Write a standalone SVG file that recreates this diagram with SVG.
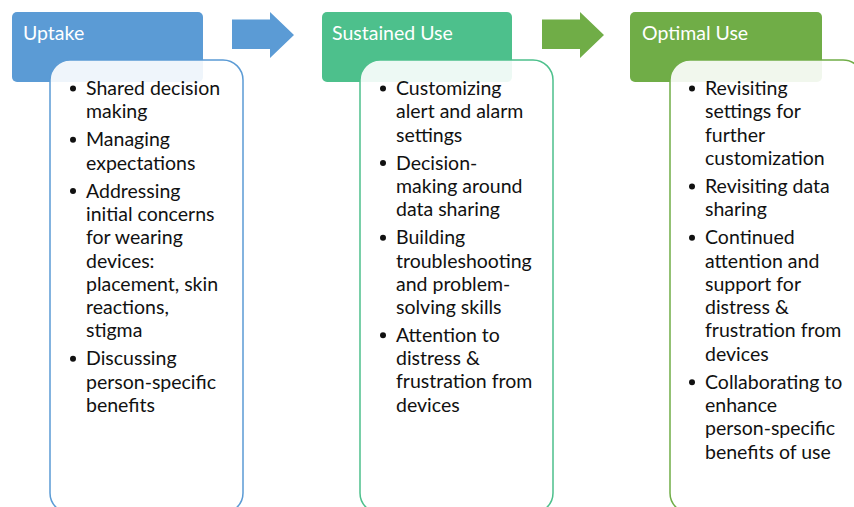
<svg xmlns="http://www.w3.org/2000/svg" width="854" height="507" viewBox="0 0 854 507">
  <style>
    .hdr-text { font-family: Lato, "Open Sans", "Liberation Sans", sans-serif; font-size: 19.5px; fill: #ffffff; }
    .body { font-family: Lato, "Open Sans", "Liberation Sans", sans-serif; font-size: 19.5px; fill: #111111; }
    .card { fill: #ffffff; fill-opacity: 0.9; stroke-width: 1.5; }
    .dot { fill: #111111; }
  </style>

  <rect width="854" height="507" fill="#ffffff"/>

  <!-- stage arrows -->
  <g id="connectors">
    <polygon points="232,19.5 270,19.5 270,12 294,35 270,58 270,49 232,49" fill="#5B9BD5"/>
    <polygon points="542,19.5 580,19.5 580,12 604,35 580,58 580,49 542,49" fill="#70AD47"/>
  </g>

  <!-- Stage 1: Uptake -->
  <g id="uptake">
    <rect x="12" y="12" width="191" height="70" rx="5" fill="#5B9BD5"/>
    <text class="hdr-text" x="23" y="40">Uptake</text>
    <rect class="card" x="50" y="60" width="193" height="453" rx="20" stroke="#5B9BD5"/>
    <g class="body">
      <circle class="dot" cx="73" cy="88.5" r="3"/>
      <text x="86" y="95">Shared decision</text>
      <text x="86" y="118.3">making</text>
      <circle class="dot" cx="73" cy="139.8" r="3"/>
      <text x="86" y="146.3">Managing</text>
      <text x="86" y="169.6">expectations</text>
      <circle class="dot" cx="73" cy="191.1" r="3"/>
      <text x="86" y="197.6">Addressing</text>
      <text x="86" y="220.9">initial concerns</text>
      <text x="86" y="244.2">for wearing</text>
      <text x="86" y="267.5">devices:</text>
      <text x="86" y="290.8">placement, skin</text>
      <text x="86" y="314.1">reactions,</text>
      <text x="86" y="337.4">stigma</text>
      <circle class="dot" cx="73" cy="358.7" r="3"/>
      <text x="86" y="365.2">Discussing</text>
      <text x="86" y="388.5">person-specific</text>
      <text x="86" y="411.8">benefits</text>
    </g>
  </g>

  <!-- Stage 2: Sustained Use -->
  <g id="sustained-use">
    <rect x="322" y="12" width="190" height="70" rx="5" fill="#4DC08C"/>
    <text class="hdr-text" x="332" y="40">Sustained Use</text>
    <rect class="card" x="360" y="60" width="193" height="453" rx="20" stroke="#4DC08C"/>
    <g class="body">
      <circle class="dot" cx="383" cy="88.5" r="3"/>
      <text x="396" y="95">Customizing</text>
      <text x="396" y="118.3">alert and alarm</text>
      <text x="396" y="141.6">settings</text>
      <circle class="dot" cx="383" cy="163.1" r="3"/>
      <text x="396" y="169.6">Decision-</text>
      <text x="396" y="192.9">making around</text>
      <text x="396" y="216.2">data sharing</text>
      <circle class="dot" cx="383" cy="237.7" r="3"/>
      <text x="396" y="244.2">Building</text>
      <text x="396" y="267.5">troubleshooting</text>
      <text x="396" y="290.8">and problem-</text>
      <text x="396" y="314.1">solving skills</text>
      <circle class="dot" cx="383" cy="335.2" r="3"/>
      <text x="396" y="341.7">Attention to</text>
      <text x="396" y="365">distress &amp;</text>
      <text x="396" y="388.3">frustration from</text>
      <text x="396" y="411.6">devices</text>
    </g>
  </g>

  <!-- Stage 3: Optimal Use -->
  <g id="optimal-use">
    <rect x="630" y="12" width="192" height="70" rx="5" fill="#70AD47"/>
    <text class="hdr-text" x="642" y="40">Optimal Use</text>
    <rect class="card" x="670" y="60" width="193" height="453" rx="20" stroke="#70AD47"/>
    <g class="body">
      <circle class="dot" cx="692" cy="88.5" r="3"/>
      <text x="705" y="95">Revisiting</text>
      <text x="705" y="118.3">settings for</text>
      <text x="705" y="141.6">further</text>
      <text x="705" y="164.9">customization</text>
      <circle class="dot" cx="692" cy="186.4" r="3"/>
      <text x="705" y="192.9">Revisiting data</text>
      <text x="705" y="216.2">sharing</text>
      <circle class="dot" cx="692" cy="237.7" r="3"/>
      <text x="705" y="244.2">Continued</text>
      <text x="705" y="267.5">attention and</text>
      <text x="705" y="290.8">support for</text>
      <text x="705" y="314.1">distress &amp;</text>
      <text x="705" y="337.4">frustration from</text>
      <text x="705" y="360.7">devices</text>
      <circle class="dot" cx="692" cy="382.2" r="3"/>
      <text x="705" y="388.7">Collaborating to</text>
      <text x="705" y="412">enhance</text>
      <text x="705" y="435.3">person-specific</text>
      <text x="705" y="458.6">benefits of use</text>
    </g>
  </g>
</svg>
